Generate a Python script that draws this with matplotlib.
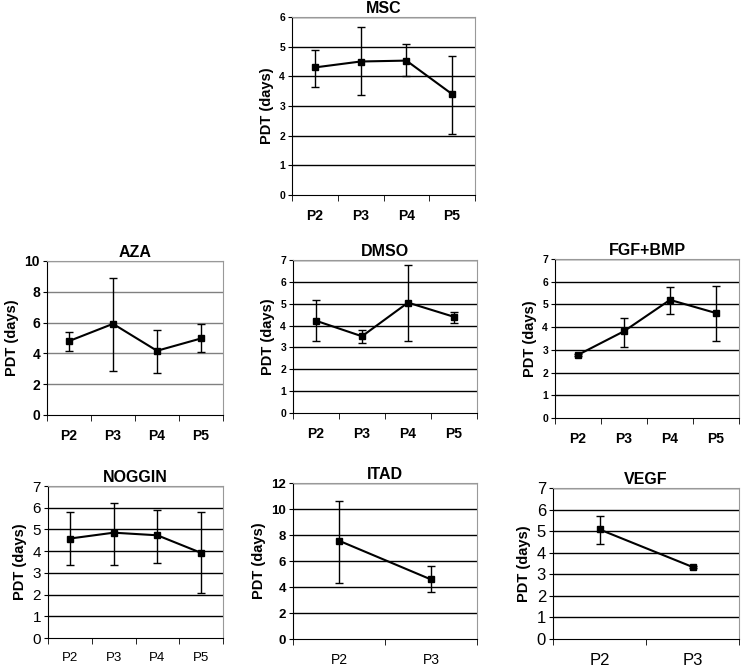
import numpy as np
import matplotlib.pyplot as plt

plt.rcParams['font.family'] = ['Liberation Sans', 'DejaVu Sans']

# PDT means and error bar limits per treatment
msc_x = ['P2', 'P3', 'P4', 'P5']
msc_y = [4.30, 4.50, 4.53, 3.40]
msc_lo = [3.65, 3.36, 4.00, 2.04]
msc_hi = [4.90, 5.66, 5.09, 4.70]

aza_x = ['P2', 'P3', 'P4', 'P5']
aza_y = [4.80, 5.92, 4.17, 4.97]
aza_lo = [4.16, 2.88, 2.75, 4.10]
aza_hi = [5.41, 8.92, 5.52, 5.88]

dmso_x = ['P2', 'P3', 'P4', 'P5']
dmso_y = [4.22, 3.51, 5.05, 4.40]
dmso_lo = [3.29, 3.21, 3.29, 4.13]
dmso_hi = [5.17, 3.82, 6.76, 4.60]

fgf_x = ['P2', 'P3', 'P4', 'P5']
fgf_y = [2.78, 3.82, 5.20, 4.62]
fgf_lo = [2.72, 3.14, 4.58, 3.38]
fgf_hi = [2.83, 4.39, 5.76, 5.79]

nog_x = ['P2', 'P3', 'P4', 'P5']
nog_y = [4.58, 4.85, 4.73, 3.92]
nog_lo = [3.35, 3.35, 3.47, 2.05]
nog_hi = [5.78, 6.23, 5.91, 5.78]

itad_x = ['P2', 'P3']
itad_y = [7.56, 4.58]
itad_lo = [4.31, 3.60]
itad_hi = [10.64, 5.60]

vegf_x = ['P2', 'P3']
vegf_y = [5.08, 3.34]
vegf_lo = [4.40, 3.29]
vegf_hi = [5.70, 3.39]


def panel(rect, title, cats, y, lo, hi, ymax, ystep, xfs=10, yfs=7.5,
          xbold=True, ybold=True, grid='black'):
    ax = fig.add_axes(rect)
    x = np.arange(len(cats))
    y = np.array(y)
    err = [y - np.array(lo), np.array(hi) - y]
    ax.errorbar(x, y, yerr=err, color='black', lw=1.5, marker='s', ms=5,
                ecolor='black', elinewidth=1, capsize=3, capthick=1, zorder=3)
    ax.set_xlim(-0.5, len(cats) - 0.5)
    ax.set_ylim(0, ymax)
    yt = np.arange(0, ymax + 0.01, ystep)
    ax.set_yticks(yt)
    ax.set_yticklabels([f'{v:g}' for v in yt])
    for v in yt[1:]:
        ax.axhline(v, color=grid, lw=1, zorder=1)
    ax.set_xticks(x)
    ax.set_xticklabels(cats)
    ax.set_xticks(np.arange(len(cats) + 1) - 0.5, minor=True)
    ax.tick_params(axis='x', which='major', length=0, pad=10)
    ax.tick_params(axis='x', which='minor', length=4, direction='out')
    ax.tick_params(axis='y', length=3, direction='out', pad=2)
    for lab in ax.get_xticklabels():
        lab.set_fontsize(xfs)
        lab.set_fontweight('bold' if xbold else 'normal')
    for lab in ax.get_yticklabels():
        lab.set_fontsize(yfs)
        lab.set_fontweight('bold' if ybold else 'normal')
    for s in ['top', 'right']:
        ax.spines[s].set_color('#999999')
    for s in ['left', 'bottom']:
        ax.spines[s].set_color('black')
    ax.set_title(title, fontsize=11.5, fontweight='bold', pad=3)
    ax.set_ylabel('PDT (days)', fontsize=10.5, fontweight='bold', labelpad=4)
    return ax


W, H = 747, 669
fig = plt.figure(figsize=(W / 100, H / 100), dpi=100)


def r(l, t, rgt, b):
    return [l / W, 1 - b / H, (rgt - l) / W, (b - t) / H]


panel(r(292, 17, 475, 195), 'MSC', msc_x, msc_y, msc_lo, msc_hi, 6, 1)
panel(r(47, 261, 223, 415), 'AZA', aza_x, aza_y, aza_lo, aza_hi, 10, 2,
      yfs=10, grid='#808080')
panel(r(293, 260, 477, 413), 'DMSO', dmso_x, dmso_y, dmso_lo, dmso_hi, 7, 1)
panel(r(555, 259, 739, 418), 'FGF+BMP', fgf_x, fgf_y, fgf_lo, fgf_hi, 7, 1)
panel(r(48, 486, 223, 638), 'NOGGIN', nog_x, nog_y, nog_lo, nog_hi, 7, 1,
      xfs=9.5, yfs=11, xbold=False, ybold=False)
panel(r(293, 483, 477, 639), 'ITAD', itad_x, itad_y, itad_lo, itad_hi, 12, 2,
      xfs=10, yfs=9.5, xbold=False)
panel(r(553, 488, 739, 639), 'VEGF', vegf_x, vegf_y, vegf_lo, vegf_hi, 7, 1,
      xfs=12, yfs=12, xbold=False, ybold=False)

fig.savefig('out.png', dpi=100)
